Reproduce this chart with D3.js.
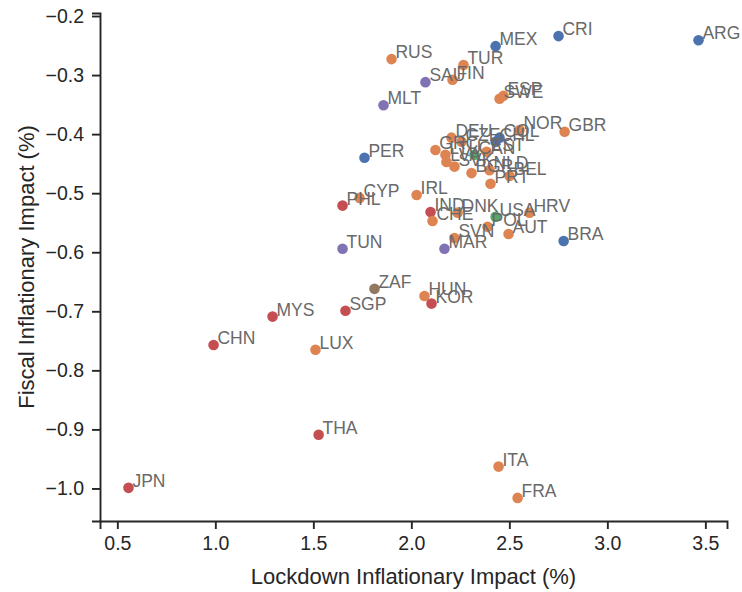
<!DOCTYPE html>
<html>
<head>
<meta charset="utf-8">
<title>Lockdown vs fiscal inflationary impact</title>
<script src="https://cdn.jsdelivr.net/npm/d3@7"></script>
<style>
body { margin: 0; background: #fff; }
svg { display: block; font-family: Arial, "Liberation Sans", sans-serif; }
</style>
</head>
<body>
<script>
// country codes, lockdown impact (x), fiscal impact (y), region group
var countries = ["ARG","CRI","MEX","RUS","TUR","SAU","FIN","ESP","SWE","MLT",
  "NOR","GBR","DEU","CZE","COL","CHL","GRC","LTU","CAN","EST",
  "LVA","SVK","BGR","NLD","BEL","PRT","PER","CYP","PHL","IRL",
  "IND","DNK","CHE","USA","HRV","POL","SVN","MAR","AUT","BRA",
  "TUN","ZAF","HUN","KOR","SGP","MYS","CHN","LUX","THA","ITA",
  "JPN","FRA"];
var lockdown = [3.465,2.751,2.430,1.899,2.266,2.072,2.210,2.470,2.450,1.858,
  2.552,2.782,2.205,2.256,2.450,2.430,2.123,2.174,2.322,2.384,
  2.179,2.220,2.307,2.399,2.501,2.404,1.761,1.736,1.649,2.027,
  2.098,2.236,2.108,2.430,2.603,2.389,2.220,2.169,2.496,2.777,
  1.649,1.812,2.067,2.103,1.664,1.292,0.991,1.511,1.527,2.445,
  0.557,2.542];
var fiscal = [-0.241,-0.234,-0.251,-0.273,-0.283,-0.312,-0.308,-0.335,-0.340,-0.351,
  -0.393,-0.396,-0.406,-0.413,-0.406,-0.413,-0.427,-0.435,-0.435,-0.430,
  -0.447,-0.455,-0.466,-0.461,-0.471,-0.484,-0.440,-0.508,-0.521,-0.503,
  -0.532,-0.533,-0.547,-0.540,-0.533,-0.557,-0.576,-0.594,-0.569,-0.581,
  -0.594,-0.662,-0.674,-0.687,-0.699,-0.709,-0.757,-0.765,-0.909,-0.963,
  -0.999,-1.016];
var region = ["LatAm","LatAm","LatAm","Europe","Europe","MENA","Europe","Europe","Europe","MENA",
  "Europe","Europe","Europe","Europe","LatAm","LatAm","Europe","Europe","NorthAm","Europe",
  "Europe","Europe","Europe","Europe","Europe","Europe","LatAm","Europe","Asia","Europe",
  "Asia","Europe","Europe","NorthAm","Europe","Europe","Europe","MENA","Europe","LatAm",
  "MENA","Africa","Europe","Asia","Asia","Asia","Asia","Europe","Asia","Europe",
  "Asia","Europe"];
var regions = ["LatAm","Europe","NorthAm","Asia","MENA","Africa"];
var palette = ["#4c72b0","#dd8452","#55a868","#c44e52","#8172b3","#937860"];
var xTicks = [0.5,1.0,1.5,2.0,2.5,3.0,3.5];
var yTicks = [-0.2,-0.3,-0.4,-0.5,-0.6,-0.7,-0.8,-0.9,-1.0];

var W = 742, H = 592;
var margin = {left: 100, right: 15, top: 13, bottom: 71};

var data = countries.map(function(c, i) {
  return {name: c, x: lockdown[i], y: fiscal[i], g: region[i]};
});

// matplotlib-like 5% autoscale margins
function pad(ext) {
  var r = ext[1] - ext[0];
  return [ext[0] - 0.05 * r, ext[1] + 0.05 * r];
}

var x = d3.scaleLinear().domain(pad(d3.extent(lockdown))).range([margin.left, W - margin.right]);
var y = d3.scaleLinear().domain(pad(d3.extent(fiscal))).range([H - margin.bottom, margin.top]);
var color = d3.scaleOrdinal().domain(regions).range(palette);

var svg = d3.select("body").append("svg").attr("width", W).attr("height", H);

var fmt = d3.format(".1f");

var xAxis = svg.append("g")
  .attr("transform", "translate(0," + (H - margin.bottom) + ")")
  .call(d3.axisBottom(x).tickValues(xTicks).tickFormat(fmt).tickSizeOuter(0).tickSize(8).tickPadding(7));
var yAxis = svg.append("g")
  .attr("transform", "translate(" + margin.left + ",0)")
  .call(d3.axisLeft(y).tickValues(yTicks).tickFormat(fmt).tickSizeOuter(0).tickSize(8).tickPadding(8));

[xAxis, yAxis].forEach(function(a) {
  a.select(".domain").attr("stroke", "#262626").attr("stroke-width", 1.9);
  a.selectAll(".tick line").attr("stroke", "#262626").attr("stroke-width", 1.9);
  a.selectAll(".tick text").attr("fill", "#262626").style("font-size", "19.5px").style("font-family", null);
});

svg.selectAll("circle.pt").data(data).enter().append("circle")
  .attr("class", "pt")
  .attr("cx", function(d) { return x(d.x); })
  .attr("cy", function(d) { return y(d.y); })
  .attr("r", 5.3)
  .attr("fill", function(d) { return color(d.g); });

svg.selectAll("text.lbl").data(data).enter().append("text")
  .attr("class", "lbl")
  .attr("x", function(d) { return x(d.x + 0.02); })
  .attr("y", function(d) { return y(d.y) - 1; })
  .attr("fill", "#696969")
  .style("font-size", "17.5px")
  .text(function(d) { return d.name; });

svg.append("text")
  .attr("x", (margin.left + W - margin.right) / 2)
  .attr("y", 584)
  .attr("text-anchor", "middle")
  .attr("fill", "#262626")
  .style("font-size", "22px")
  .text("Lockdown Inflationary Impact (%)");

svg.append("text")
  .attr("transform", "translate(34," + ((margin.top + H - margin.bottom) / 2) + ") rotate(-90)")
  .attr("text-anchor", "middle")
  .attr("fill", "#262626")
  .style("font-size", "22px")
  .text("Fiscal Inflationary Impact (%)");
</script>
</body>
</html>
